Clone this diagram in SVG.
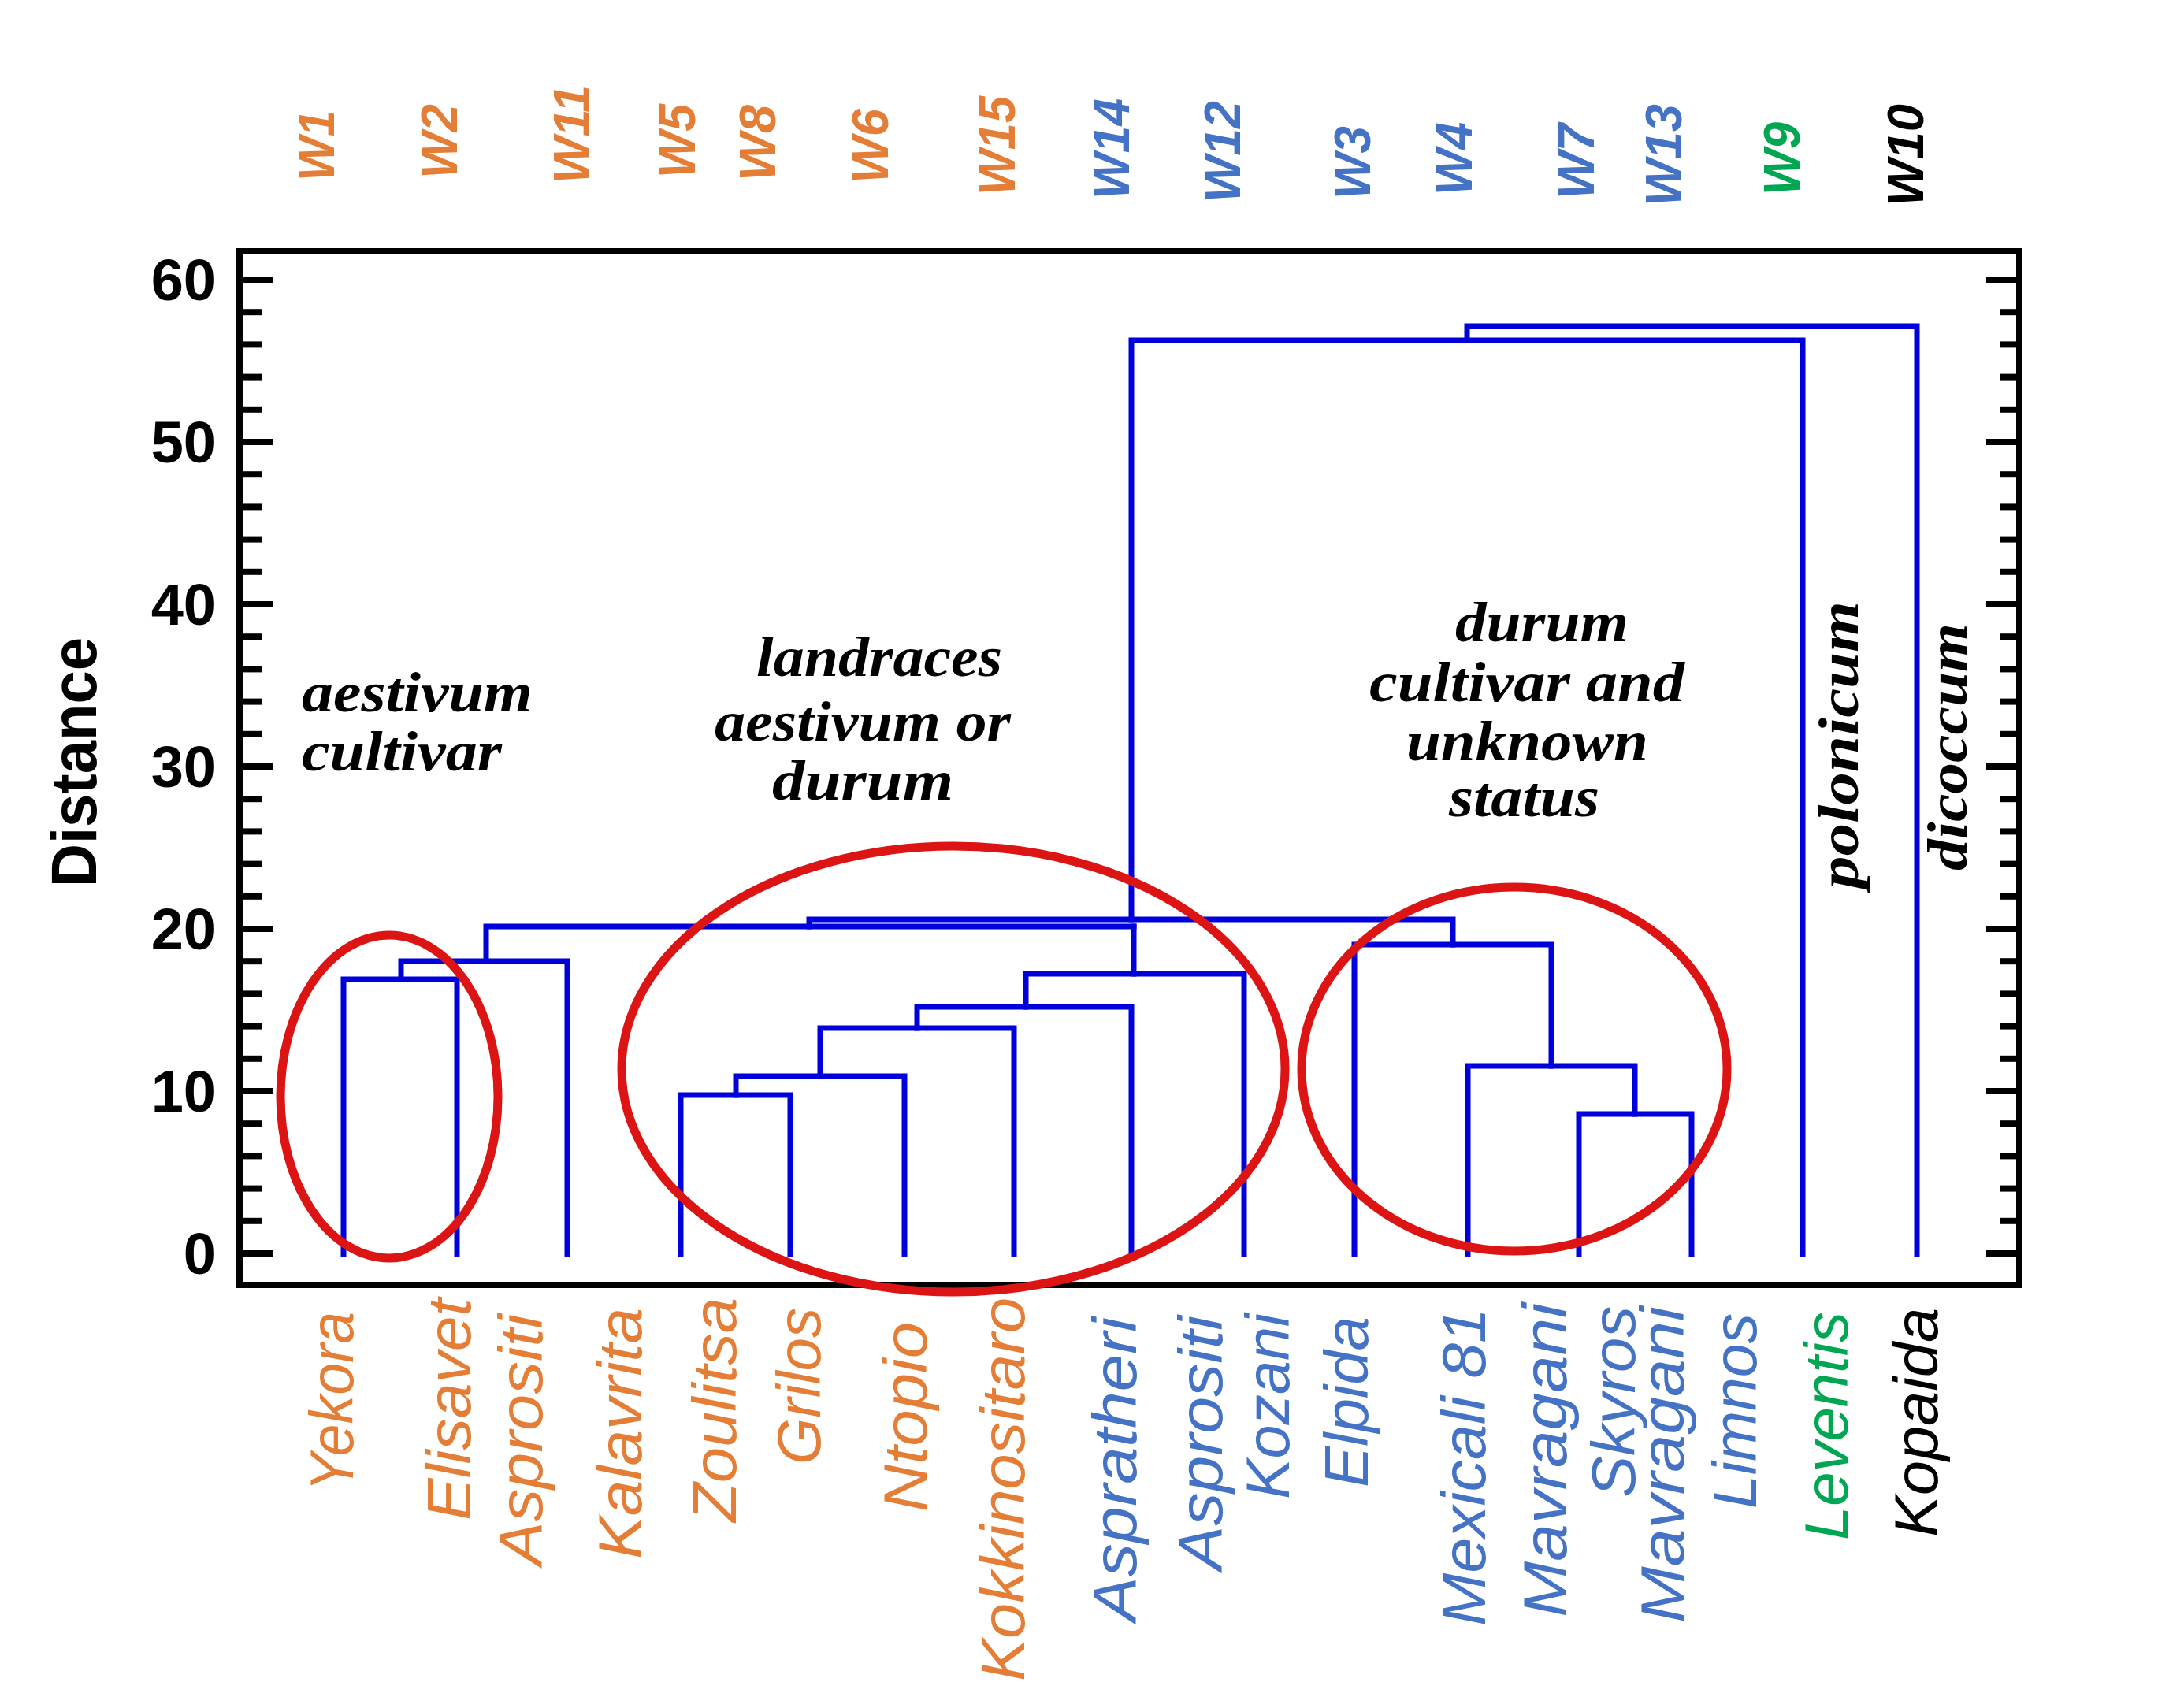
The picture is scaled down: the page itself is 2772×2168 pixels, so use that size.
<svg xmlns="http://www.w3.org/2000/svg" width="2772" height="2168" viewBox="0 0 2772 2168">
<style>
.dend{stroke:#0000DC;stroke-width:7;fill:none;stroke-linecap:square;stroke-linejoin:miter}
.ell{stroke:#DC1414;stroke-width:11;fill:none}
.ax{stroke:#000;stroke-width:8;fill:none}
.tk{stroke:#000;stroke-width:8}
.tl{font-family:'Liberation Sans',Arial,sans-serif;font-weight:bold;font-size:74px;text-anchor:end;fill:#000}
.yl{font-family:'Liberation Sans',Arial,sans-serif;font-weight:bold;font-size:82px;fill:#000}
.wl{font-family:'Liberation Sans',Arial,sans-serif;font-weight:bold;font-style:italic;font-size:64px}
.nm{font-family:'Liberation Sans',Arial,sans-serif;font-style:italic;font-size:78px}
.an{font-family:'Liberation Serif','Times New Roman',serif;font-weight:bold;font-style:italic;font-size:72px;fill:#000}
.or{fill:#E47E36}.bl{fill:#4472C4}.gr{fill:#00A651}.bk{fill:#000}
</style>
<rect width="2772" height="2168" fill="#fff"/>
<g id="axis">
<rect class="ax" x="304" y="319" width="2259" height="1312"/>
<g id="ticks-left">
<line class="tk" x1="304" y1="1591" x2="347" y2="1591"/><line class="tk" x1="304" y1="1549.8" x2="332" y2="1549.8"/><line class="tk" x1="304" y1="1508.6" x2="332" y2="1508.6"/><line class="tk" x1="304" y1="1467.4" x2="332" y2="1467.4"/><line class="tk" x1="304" y1="1426.2" x2="332" y2="1426.2"/>
<line class="tk" x1="304" y1="1385" x2="347" y2="1385"/><line class="tk" x1="304" y1="1343.8" x2="332" y2="1343.8"/><line class="tk" x1="304" y1="1302.6" x2="332" y2="1302.6"/><line class="tk" x1="304" y1="1261.4" x2="332" y2="1261.4"/><line class="tk" x1="304" y1="1220.2" x2="332" y2="1220.2"/>
<line class="tk" x1="304" y1="1179" x2="347" y2="1179"/><line class="tk" x1="304" y1="1137.8" x2="332" y2="1137.8"/><line class="tk" x1="304" y1="1096.6" x2="332" y2="1096.6"/><line class="tk" x1="304" y1="1055.4" x2="332" y2="1055.4"/><line class="tk" x1="304" y1="1014.2" x2="332" y2="1014.2"/>
<line class="tk" x1="304" y1="973" x2="347" y2="973"/><line class="tk" x1="304" y1="931.8" x2="332" y2="931.8"/><line class="tk" x1="304" y1="890.6" x2="332" y2="890.6"/><line class="tk" x1="304" y1="849.4" x2="332" y2="849.4"/><line class="tk" x1="304" y1="808.2" x2="332" y2="808.2"/>
<line class="tk" x1="304" y1="767" x2="347" y2="767"/><line class="tk" x1="304" y1="725.8" x2="332" y2="725.8"/><line class="tk" x1="304" y1="684.6" x2="332" y2="684.6"/><line class="tk" x1="304" y1="643.4" x2="332" y2="643.4"/><line class="tk" x1="304" y1="602.2" x2="332" y2="602.2"/>
<line class="tk" x1="304" y1="561" x2="347" y2="561"/><line class="tk" x1="304" y1="519.8" x2="332" y2="519.8"/><line class="tk" x1="304" y1="478.6" x2="332" y2="478.6"/><line class="tk" x1="304" y1="437.4" x2="332" y2="437.4"/><line class="tk" x1="304" y1="396.2" x2="332" y2="396.2"/>
<line class="tk" x1="304" y1="355" x2="347" y2="355"/>
</g>
<g id="ticks-right">
<line class="tk" x1="2563" y1="1591" x2="2521" y2="1591"/><line class="tk" x1="2563" y1="1549.8" x2="2539" y2="1549.8"/><line class="tk" x1="2563" y1="1508.6" x2="2539" y2="1508.6"/><line class="tk" x1="2563" y1="1467.4" x2="2539" y2="1467.4"/><line class="tk" x1="2563" y1="1426.2" x2="2539" y2="1426.2"/>
<line class="tk" x1="2563" y1="1385" x2="2521" y2="1385"/><line class="tk" x1="2563" y1="1343.8" x2="2539" y2="1343.8"/><line class="tk" x1="2563" y1="1302.6" x2="2539" y2="1302.6"/><line class="tk" x1="2563" y1="1261.4" x2="2539" y2="1261.4"/><line class="tk" x1="2563" y1="1220.2" x2="2539" y2="1220.2"/>
<line class="tk" x1="2563" y1="1179" x2="2521" y2="1179"/><line class="tk" x1="2563" y1="1137.8" x2="2539" y2="1137.8"/><line class="tk" x1="2563" y1="1096.6" x2="2539" y2="1096.6"/><line class="tk" x1="2563" y1="1055.4" x2="2539" y2="1055.4"/><line class="tk" x1="2563" y1="1014.2" x2="2539" y2="1014.2"/>
<line class="tk" x1="2563" y1="973" x2="2521" y2="973"/><line class="tk" x1="2563" y1="931.8" x2="2539" y2="931.8"/><line class="tk" x1="2563" y1="890.6" x2="2539" y2="890.6"/><line class="tk" x1="2563" y1="849.4" x2="2539" y2="849.4"/><line class="tk" x1="2563" y1="808.2" x2="2539" y2="808.2"/>
<line class="tk" x1="2563" y1="767" x2="2521" y2="767"/><line class="tk" x1="2563" y1="725.8" x2="2539" y2="725.8"/><line class="tk" x1="2563" y1="684.6" x2="2539" y2="684.6"/><line class="tk" x1="2563" y1="643.4" x2="2539" y2="643.4"/><line class="tk" x1="2563" y1="602.2" x2="2539" y2="602.2"/>
<line class="tk" x1="2563" y1="561" x2="2521" y2="561"/><line class="tk" x1="2563" y1="519.8" x2="2539" y2="519.8"/><line class="tk" x1="2563" y1="478.6" x2="2539" y2="478.6"/><line class="tk" x1="2563" y1="437.4" x2="2539" y2="437.4"/><line class="tk" x1="2563" y1="396.2" x2="2539" y2="396.2"/>
<line class="tk" x1="2563" y1="355" x2="2521" y2="355"/>
</g>
<g id="tick-labels">
<text class="tl" x="274" y="1617">0</text>
<text class="tl" x="274" y="1411">10</text>
<text class="tl" x="274" y="1205">20</text>
<text class="tl" x="274" y="999">30</text>
<text class="tl" x="274" y="793">40</text>
<text class="tl" x="274" y="587">50</text>
<text class="tl" x="274" y="381">60</text>
</g>
<text id="y-title" class="yl" transform="translate(122,1126) rotate(-90)" textLength="317" lengthAdjust="spacingAndGlyphs">Distance</text>
</g>
<g id="connectors">
<path class="dend" d="M436,1592V1243H580V1592"/>
<path class="dend" d="M509,1243V1220H720V1592"/>
<path class="dend" d="M617,1220V1176H1439"/>
<path class="dend" d="M864,1592V1390H1003V1592"/>
<path class="dend" d="M934,1390V1366H1148V1592"/>
<path class="dend" d="M1041,1366V1305H1287V1592"/>
<path class="dend" d="M1164,1305V1278H1436V1592"/>
<path class="dend" d="M1302,1278V1236H1579V1592"/>
<path class="dend" d="M1439,1236V1176"/>
<path class="dend" d="M2004,1592V1414H2147V1592"/>
<path class="dend" d="M2075,1414V1353H1863V1592"/>
<path class="dend" d="M1969,1353V1199H1719V1592"/>
<path class="dend" d="M1027,1176V1167H1844V1199"/>
<path class="dend" d="M1436,1167V432H2288V1592"/>
<path class="dend" d="M1862,432V414H2433V1592"/>
</g>
<g id="groups">
<ellipse id="group-aestivum" class="ell" cx="494" cy="1392" rx="138" ry="205"/>
<ellipse id="group-landraces" class="ell" cx="1210" cy="1357" rx="421" ry="283"/>
<ellipse id="group-durum" class="ell" cx="1922" cy="1357" rx="270" ry="231"/>
</g>
<g id="w-labels" class="wl">
<text class="or" transform="translate(424,230) rotate(-90)" textLength="90" lengthAdjust="spacingAndGlyphs">W1</text>
<text class="or" transform="translate(580,227) rotate(-90)" textLength="95" lengthAdjust="spacingAndGlyphs">W2</text>
<text class="or" transform="translate(748,233) rotate(-90)" textLength="125" lengthAdjust="spacingAndGlyphs">W11</text>
<text class="or" transform="translate(882,226) rotate(-90)" textLength="94" lengthAdjust="spacingAndGlyphs">W5</text>
<text class="or" transform="translate(984,230) rotate(-90)" textLength="97" lengthAdjust="spacingAndGlyphs">W8</text>
<text class="or" transform="translate(1127,233) rotate(-90)" textLength="95" lengthAdjust="spacingAndGlyphs">W6</text>
<text class="or" transform="translate(1288,248) rotate(-90)" textLength="126" lengthAdjust="spacingAndGlyphs">W15</text>
<text class="bl" transform="translate(1433,253) rotate(-90)" textLength="128" lengthAdjust="spacingAndGlyphs">W14</text>
<text class="bl" transform="translate(1574,257) rotate(-90)" textLength="129" lengthAdjust="spacingAndGlyphs">W12</text>
<text class="bl" transform="translate(1739,253) rotate(-90)" textLength="93" lengthAdjust="spacingAndGlyphs">W3</text>
<text class="bl" transform="translate(1868,248) rotate(-90)" textLength="93" lengthAdjust="spacingAndGlyphs">W4</text>
<text class="bl" transform="translate(2023,253) rotate(-90)" textLength="96" lengthAdjust="spacingAndGlyphs">W7</text>
<text class="bl" transform="translate(2134,262) rotate(-90)" textLength="130" lengthAdjust="spacingAndGlyphs">W13</text>
<text class="gr" transform="translate(2284,248) rotate(-90)" textLength="93" lengthAdjust="spacingAndGlyphs">W9</text>
<text class="bk" transform="translate(2441,262) rotate(-90)" textLength="130" lengthAdjust="spacingAndGlyphs">W10</text>
</g>
<g id="leaf-names" class="nm">
<text id="n-yekora" class="or" transform="translate(448,1893) rotate(-90)" textLength="228" lengthAdjust="spacingAndGlyphs">Yekora</text>
<text id="n-elisavet" class="or" transform="translate(597,1930) rotate(-90)" textLength="282" lengthAdjust="spacingAndGlyphs">Elisavet</text>
<text id="n-asprositi" class="or" transform="translate(688,1987) rotate(-90)" textLength="319" lengthAdjust="spacingAndGlyphs">Asprositi</text>
<text id="n-kalavrita" class="or" transform="translate(814,1979) rotate(-90)" textLength="319" lengthAdjust="spacingAndGlyphs">Kalavrita</text>
<text id="n-zoulitsa" class="or" transform="translate(934,1932) rotate(-90)" textLength="285" lengthAdjust="spacingAndGlyphs">Zoulitsa</text>
<text id="n-grilos" class="or" transform="translate(1041,1859) rotate(-90)" textLength="199" lengthAdjust="spacingAndGlyphs">Grilos</text>
<text id="n-ntopio" class="or" transform="translate(1176,1919) rotate(-90)" textLength="241" lengthAdjust="spacingAndGlyphs">Ntopio</text>
<text id="n-kokkinositaro" class="or" transform="translate(1300,2134) rotate(-90)" textLength="487" lengthAdjust="spacingAndGlyphs">Kokkinositaro</text>
<text id="n-aspratheri" class="bl" transform="translate(1442,2058) rotate(-90)" textLength="386" lengthAdjust="spacingAndGlyphs">Aspratheri</text>
<g id="n-asprositi-kozani" class="bl">
<text transform="translate(1551,1993) rotate(-90)" textLength="323" lengthAdjust="spacingAndGlyphs">Asprositi</text>
<text transform="translate(1636,1903) rotate(-90)" textLength="236" lengthAdjust="spacingAndGlyphs">Kozani</text>
</g>
<text id="n-elpida" class="bl" transform="translate(1736,1888) rotate(-90)" textLength="217" lengthAdjust="spacingAndGlyphs">Elpida</text>
<text id="n-mexicali" class="bl" transform="translate(1885,2064) rotate(-90)" textLength="404" lengthAdjust="spacingAndGlyphs">Mexicali 81</text>
<g id="n-mavragani-skyros" class="bl">
<text transform="translate(1988,2053) rotate(-90)" textLength="399" lengthAdjust="spacingAndGlyphs">Mavragani</text>
<text transform="translate(2075,1901) rotate(-90)" textLength="243" lengthAdjust="spacingAndGlyphs">Skyros</text>
</g>
<g id="n-mavragani-limnos" class="bl">
<text transform="translate(2137,2060) rotate(-90)" textLength="402" lengthAdjust="spacingAndGlyphs">Mavragani</text>
<text transform="translate(2229,1915) rotate(-90)" textLength="248" lengthAdjust="spacingAndGlyphs">Limnos</text>
</g>
<text id="n-leventis" class="gr" transform="translate(2345,1955) rotate(-90)" textLength="290" lengthAdjust="spacingAndGlyphs">Leventis</text>
<text id="n-kopaida" class="bk" transform="translate(2459,1951) rotate(-90)" textLength="291" lengthAdjust="spacingAndGlyphs">Kopaida</text>
</g>
<g id="annotations" class="an">
<g id="a-aestivum">
<text x="383" y="903" textLength="293" lengthAdjust="spacingAndGlyphs">aestivum</text>
<text x="383" y="978" textLength="254" lengthAdjust="spacingAndGlyphs">cultivar</text>
</g>
<g id="a-landraces">
<text x="960" y="858" textLength="312" lengthAdjust="spacingAndGlyphs">landraces</text>
<text x="907" y="940" textLength="376" lengthAdjust="spacingAndGlyphs">aestivum or</text>
<text x="980" y="1015" textLength="230" lengthAdjust="spacingAndGlyphs">durum</text>
</g>
<g id="a-durum">
<text x="1847" y="814" textLength="220" lengthAdjust="spacingAndGlyphs">durum</text>
<text x="1738" y="890" textLength="400" lengthAdjust="spacingAndGlyphs">cultivar and</text>
<text x="1785" y="965" textLength="307" lengthAdjust="spacingAndGlyphs">unknown</text>
<text x="1839" y="1036" textLength="191" lengthAdjust="spacingAndGlyphs">status</text>
</g>
<text id="a-polonicum" transform="translate(2358,1128) rotate(-90)" textLength="365" lengthAdjust="spacingAndGlyphs">polonicum</text>
<text id="a-dicoccum" transform="translate(2496,1105) rotate(-90)" textLength="314" lengthAdjust="spacingAndGlyphs">dicoccum</text>
</g>
</svg>
